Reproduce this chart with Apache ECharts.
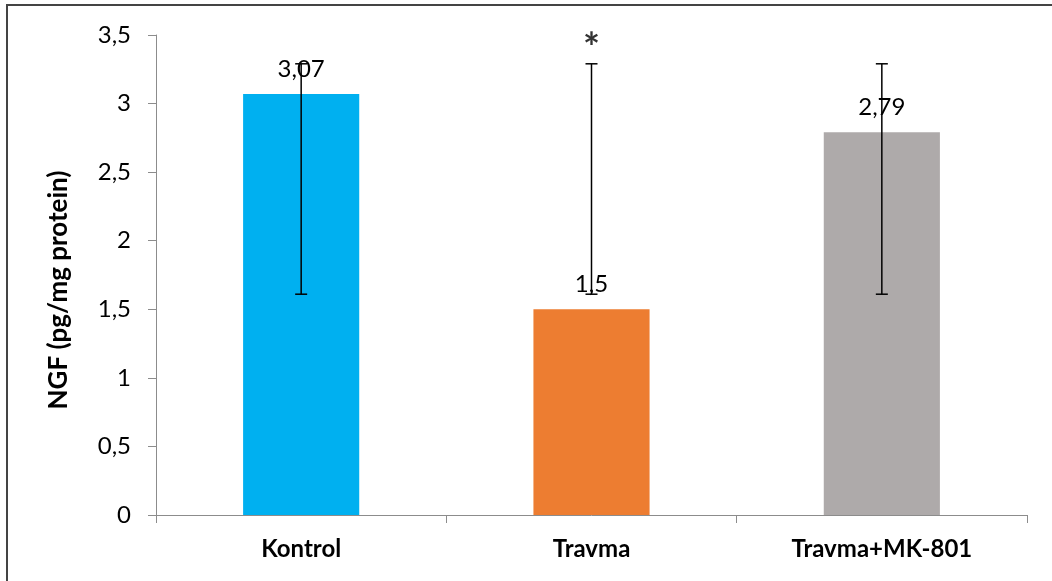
<!DOCTYPE html>
<html>
<head>
<meta charset="utf-8">
<script src="https://cdn.jsdelivr.net/npm/echarts@6/dist/echarts.min.js"></script>
<style>
  html, body { margin: 0; padding: 0; background: #fff; }
  #chart { width: 1052px; height: 581px; }
</style>
</head>
<body>
<div id="chart"></div>
<script>
// groups and NGF values
const categories = ['Kontrol', 'Travma', 'Travma+MK-801'];
const values = [3.07, 1.5, 2.79];
const barColors = ['#00B0F0', '#ED7D31', '#AEAAAA'];
// error bar ends
const errLow = [1.61, 1.61, 1.61];
const errHigh = [3.29, 3.29, 3.29];
// significance mark
const starCategory = ['Travma'];
const starValue = [3.4];

const fontFamily = 'Lato, "Open Sans", sans-serif';

const chart = echarts.init(document.getElementById('chart'));

const option = {
  animation: false,
  backgroundColor: '#fff',
  graphic: [{
    // outer frame, cropped at right and bottom like the reference
    type: 'polyline',
    shape: { points: [[7, 600], [7, 5], [1060, 5]] },
    style: { stroke: '#444', lineWidth: 2, fill: null }
  }],
  grid: { left: 156, right: 25, top: 35, bottom: 66 },
  xAxis: {
    type: 'category',
    data: categories,
    axisLine: { lineStyle: { color: '#8c8c8c', width: 1 } },
    axisTick: { show: true, length: 8, lineStyle: { color: '#8c8c8c' } },
    axisLabel: {
      color: '#000', fontSize: 24, fontWeight: 'bold', fontFamily: fontFamily, margin: 22
    }
  },
  yAxis: {
    type: 'value',
    min: 0,
    max: 3.5,
    interval: 0.5,
    name: 'NGF (pg/mg protein)',
    nameLocation: 'middle',
    nameGap: 84,
    nameTextStyle: {
      color: '#000', fontSize: 26, fontWeight: 'bold', fontFamily: fontFamily,
      padding: [0, 30, 0, 0]
    },
    axisLine: { show: true, lineStyle: { color: '#8c8c8c', width: 1 } },
    axisTick: { show: true, length: 8, lineStyle: { color: '#8c8c8c' } },
    splitLine: { show: false },
    axisLabel: {
      color: '#000', fontSize: 24, fontFamily: fontFamily, margin: 25,
      formatter: v => String(v).replace('.', ',')
    }
  },
  series: [
    {
      type: 'bar',
      barCategoryGap: '60%',
      data: values.map((v, i) => ({ value: v, itemStyle: { color: barColors[i] } })),
      label: {
        show: true,
        position: 'top',
        distance: 13,
        color: '#000',
        fontSize: 24,
        fontFamily: fontFamily,
        formatter: p => String(p.value).replace('.', ',')
      }
    },
    {
      type: 'custom',
      z: 10,
      data: categories.map((c, i) => [i, errLow[i], errHigh[i]]),
      renderItem(params, api) {
        const x = api.value(0);
        const lo = api.coord([x, api.value(1)]);
        const hi = api.coord([x, api.value(2)]);
        const half = 6;
        const style = { stroke: '#000', lineWidth: 1.5 };
        return {
          type: 'group',
          children: [
            { type: 'line', shape: { x1: lo[0], y1: lo[1], x2: hi[0], y2: hi[1] }, style },
            { type: 'line', shape: { x1: hi[0] - half, y1: hi[1], x2: hi[0] + half, y2: hi[1] }, style },
            { type: 'line', shape: { x1: lo[0] - half, y1: lo[1], x2: lo[0] + half, y2: lo[1] }, style }
          ]
        };
      }
    },
    {
      type: 'scatter',
      symbolSize: 0,
      data: starCategory.map((c, i) => [c, starValue[i]]),
      label: {
        show: true,
        position: 'inside',
        formatter: '*',
        color: '#000',
        fontSize: 40,
        fontWeight: 'bold',
        fontFamily: fontFamily
      }
    }
  ]
};

chart.setOption(option);
</script>
</body>
</html>
